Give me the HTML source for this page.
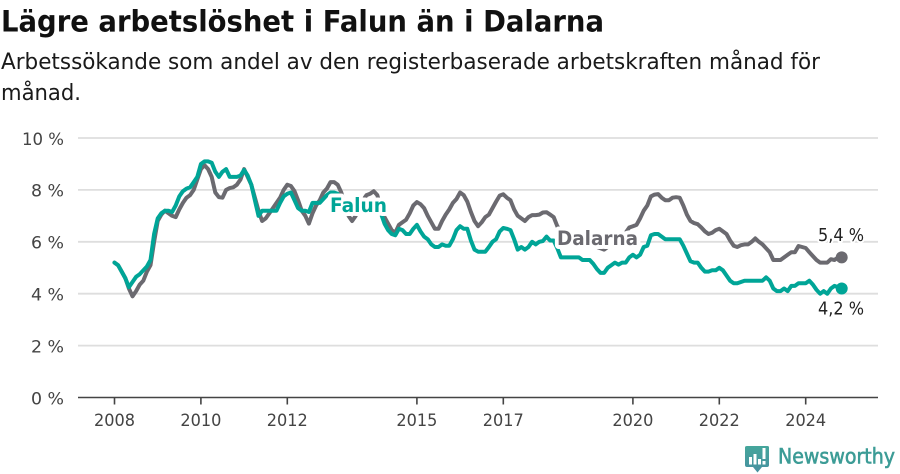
<!DOCTYPE html>
<html lang="sv">
<head>
<meta charset="utf-8">
<title>Lägre arbetslöshet i Falun än i Dalarna</title>
<style>
html,body{margin:0;padding:0;background:#fff;}
svg{display:block;font-family:"DejaVu Sans","Liberation Sans",sans-serif;}
</style>
</head>
<body>
<svg id="chart" xmlns="http://www.w3.org/2000/svg" width="900" height="474" viewBox="0 0 900 474">
  <defs>
    <linearGradient id="logoGrad" x1="0" y1="0" x2="0" y2="1">
      <stop offset="0" stop-color="#45a69b"/>
      <stop offset="1" stop-color="#4790a0"/>
    </linearGradient>
  </defs>
  <text x="1" y="31.5" font-size="29.5" font-weight="700" fill="#111" textLength="603" lengthAdjust="spacingAndGlyphs">Lägre arbetslöshet i Falun än i Dalarna</text>
  <text x="1" y="69" font-size="22.5" fill="#1a1a1a" textLength="819" lengthAdjust="spacingAndGlyphs">Arbetssökande som andel av den registerbaserade arbetskraften månad för</text>
  <text x="1" y="100" font-size="22.5" fill="#1a1a1a" textLength="80" lengthAdjust="spacingAndGlyphs">månad.</text>
  <g id="grid"></g>
  <g id="axis"></g>
  <g id="series"></g>
  <g id="labels"></g>
  <g>
    <path d="M747 446H767.5Q769 446 769 447.5V465Q769 467 767 467H762L757.5 472.5L753 467H747Q745 467 745 465V447.5Q745 446 747 446Z" fill="url(#logoGrad)"/>
    <rect x="749" y="457" width="3" height="7.5" fill="#fff"/>
    <rect x="753.5" y="454" width="3" height="10.5" fill="#fff"/>
    <rect x="758" y="459" width="3" height="5.5" fill="#fff"/>
    <rect x="762.5" y="448" width="3" height="11" fill="#fff"/>
    <rect x="762.5" y="461" width="3" height="3.5" fill="#fff"/>
    <text x="778" y="463.5" font-size="21" fill="#3c9c96" stroke="#3c9c96" stroke-width="0.6" textLength="117" lengthAdjust="spacingAndGlyphs">Newsworthy</text>
  </g>
</svg>
<script>
const yTicks = [0, 2, 4, 6, 8, 10];
const xTickYears = [2008, 2010, 2012, 2015, 2017, 2020, 2022, 2024];
const startYear = 2008;
const falunValues = [
5.2,5.1,4.85,4.6,4.25,4.45,4.65,4.75,4.9,5.05,5.3,6.3,
6.9,7.1,7.2,7.2,7.15,7.4,7.75,7.95,8.05,8.1,8.3,8.5,
9.0,9.1,9.1,9.05,8.7,8.5,8.7,8.8,8.5,8.5,8.5,8.55,
8.77,8.55,8.2,7.6,7.0,7.2,7.2,7.2,7.2,7.2,7.5,7.75,
7.85,7.9,7.6,7.3,7.2,7.2,7.15,7.5,7.5,7.5,7.65,7.8,
7.9,7.9,7.85,7.6,7.4,7.3,7.3,7.4,7.5,7.5,7.6,7.6,
7.5,7.3,7.1,6.7,6.45,6.3,6.25,6.5,6.45,6.3,6.3,6.5,
6.65,6.4,6.2,6.1,5.9,5.8,5.8,5.9,5.85,5.85,6.1,6.45,
6.6,6.5,6.5,6.05,5.7,5.62,5.62,5.62,5.8,6.0,6.1,6.4,
6.53,6.5,6.45,6.1,5.7,5.8,5.7,5.8,6.0,5.9,6.0,6.03,
6.2,6.05,6.05,5.75,5.4,5.4,5.4,5.4,5.4,5.4,5.3,5.3,
5.3,5.15,4.95,4.8,4.8,5.0,5.1,5.2,5.12,5.2,5.2,5.4,
5.5,5.4,5.5,5.8,5.85,6.25,6.3,6.3,6.2,6.1,6.1,6.1,
6.1,6.1,5.85,5.55,5.25,5.2,5.2,5.0,4.85,4.85,4.9,4.9,
5.0,4.9,4.7,4.5,4.4,4.4,4.45,4.5,4.5,4.5,4.5,4.5,
4.5,4.63,4.5,4.2,4.1,4.1,4.2,4.1,4.3,4.3,4.4,4.4,
4.4,4.5,4.35,4.15,4.0,4.1,4.0,4.2,4.3,4.25,4.2
];
const dalarnaValues = [
5.2,5.1,4.85,4.6,4.2,3.9,4.1,4.35,4.5,4.85,5.1,6.0,
6.8,7.05,7.2,7.1,7.0,6.95,7.25,7.5,7.7,7.8,8.0,8.4,
8.8,8.95,8.8,8.5,7.9,7.72,7.7,8.0,8.07,8.1,8.2,8.4,
8.8,8.5,8.2,7.7,7.2,6.8,6.9,7.1,7.3,7.5,7.7,8.0,
8.2,8.15,7.95,7.6,7.2,7.0,6.7,7.1,7.4,7.6,7.9,8.05,
8.3,8.3,8.2,7.9,7.4,7.0,6.8,7.0,7.3,7.6,7.8,7.85,
7.95,7.8,7.3,6.95,6.7,6.45,6.35,6.65,6.75,6.85,7.1,7.4,
7.53,7.45,7.3,7.0,6.75,6.5,6.5,6.8,7.05,7.25,7.5,7.65,
7.9,7.8,7.55,7.15,6.8,6.6,6.75,6.95,7.05,7.3,7.55,7.78,
7.83,7.7,7.6,7.25,7.0,6.9,6.8,6.95,7.03,7.03,7.05,7.13,
7.14,7.05,6.95,6.6,6.4,6.3,6.2,6.1,6.05,6.0,5.95,5.9,
5.9,5.85,5.8,5.75,5.7,5.8,5.9,6.0,6.1,6.2,6.35,6.55,
6.6,6.65,6.9,7.2,7.4,7.75,7.82,7.84,7.7,7.6,7.6,7.7,
7.72,7.7,7.4,7.05,6.8,6.72,6.68,6.55,6.4,6.3,6.35,6.45,
6.5,6.4,6.3,6.05,5.85,5.8,5.87,5.9,5.9,6.0,6.13,6.0,
5.9,5.75,5.6,5.3,5.3,5.3,5.4,5.5,5.6,5.6,5.84,5.8,
5.76,5.6,5.45,5.3,5.2,5.2,5.2,5.33,5.3,5.4,5.4
];
const falunColor = "#00a597";
const dalarnaColor = "#6b6a70";
const NS = "http://www.w3.org/2000/svg";

function xMonth(i) { return 114.5 + 3.6 * i; }
function xYear(year) { return xMonth((year - startYear) * 12); }
function yValue(v) { return 397.5 - v * 25.95; }
function percentLabel(v) { return v.toFixed(v % 1 === 0 ? 0 : 1).replace(".", ",") + " %"; }
function make(tag, attrs, parent) {
  const el = document.createElementNS(NS, tag);
  for (const k in attrs) el.setAttribute(k, attrs[k]);
  parent.appendChild(el);
  return el;
}
function linePath(values) {
  return values.map(function (v, i) {
    return (i ? "L" : "M") + xMonth(i).toFixed(1) + " " + yValue(v).toFixed(1);
  }).join("");
}

const grid = document.getElementById("grid");
const axis = document.getElementById("axis");
const series = document.getElementById("series");
const labels = document.getElementById("labels");

yTicks.forEach(function (t) {
  const y = yValue(t);
  if (t !== 0) {
    const g = make("line", {x1: 78, x2: 878, y1: y, y2: y, stroke: "#dedede", "stroke-width": 1.8}, grid);
    
    
  }
  const lab = make("text", {x: 64, y: y + 6.8, "text-anchor": "end", "font-size": 17, fill: "#444", textLength: String(t).length > 1 ? 42 : 33, lengthAdjust: "spacingAndGlyphs"}, axis);
  
  
  lab.textContent = t + " %";
});

const base = make("line", {x1: 78, x2: 878, y1: 397.5, y2: 397.5, stroke: "#444", "stroke-width": 1.6}, axis);



xTickYears.forEach(function (yr) {
  const x = xYear(yr);
  const tick = make("line", {x1: x, x2: x, y1: 397.5, y2: 404.5, stroke: "#444", "stroke-width": 1.6}, axis);
  
  
  const lab = make("text", {x: x, y: 426, "text-anchor": "middle", "font-size": 17, fill: "#444", textLength: 41, lengthAdjust: "spacingAndGlyphs"}, axis);
  
  
  lab.textContent = yr;
});

const dalarnaLine = make("path", {d: linePath(dalarnaValues), fill: "none", stroke: dalarnaColor, "stroke-width": 4, "stroke-linejoin": "round", "stroke-linecap": "round"}, series);



const falunLine = make("path", {d: linePath(falunValues), fill: "none", stroke: falunColor, "stroke-width": 4, "stroke-linejoin": "round", "stroke-linecap": "round"}, series);



const lastD = dalarnaValues.length - 1;
const lastF = falunValues.length - 1;

const dalarnaDot = make("circle", {cx: xMonth(lastD), cy: yValue(dalarnaValues[lastD]), r: 6, fill: dalarnaColor}, series);



const falunDot = make("circle", {cx: xMonth(lastF), cy: yValue(falunValues[lastF]), r: 6, fill: falunColor}, series);



const halo = {stroke: "#fff", "stroke-width": 8, "stroke-linejoin": "round", "paint-order": "stroke"};

const falunLabel = make("text", Object.assign({x: 330, y: 212, "font-size": 19.5, "font-weight": 700, fill: falunColor, textLength: 57, lengthAdjust: "spacingAndGlyphs"}, halo), labels);


falunLabel.textContent = "Falun";

const dalarnaLabel = make("text", Object.assign({x: 557, y: 245, "font-size": 19.5, "font-weight": 700, fill: dalarnaColor, textLength: 81, lengthAdjust: "spacingAndGlyphs"}, halo), labels);


dalarnaLabel.textContent = "Dalarna";

const dalarnaEnd = make("text", Object.assign({x: 841, y: 241, "text-anchor": "middle", "font-size": 17.5, fill: "#222", textLength: 46, lengthAdjust: "spacingAndGlyphs"}, halo, {"stroke-width": 4}), labels);


dalarnaEnd.textContent = percentLabel(dalarnaValues[lastD]);

const falunEnd = make("text", Object.assign({x: 841, y: 314.5, "text-anchor": "middle", "font-size": 17.5, fill: "#222", textLength: 46, lengthAdjust: "spacingAndGlyphs"}, halo, {"stroke-width": 4}), labels);


falunEnd.textContent = percentLabel(falunValues[lastF]);
</script>
</body>
</html>
